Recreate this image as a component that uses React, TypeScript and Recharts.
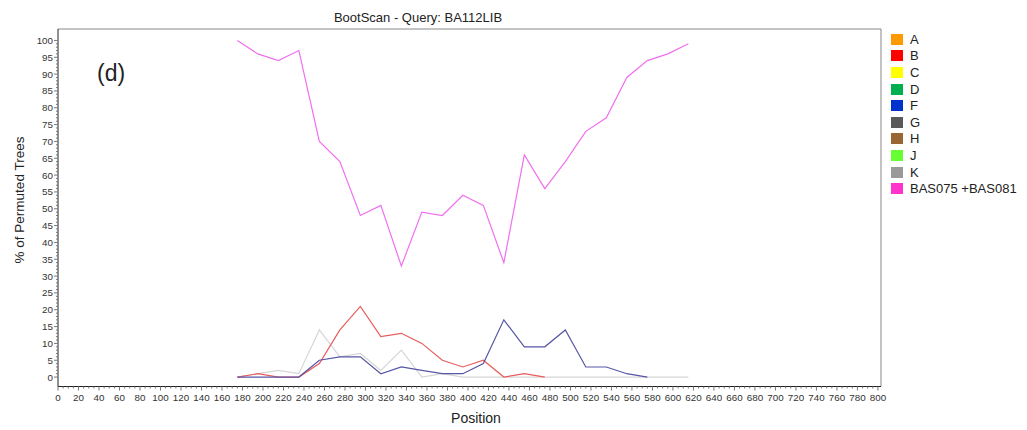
import { Line, LineChart, ReferenceLine, XAxis, YAxis } from "recharts"

// window positions along the alignment
const positions = [
  175, 195, 215, 235, 255, 275, 295, 315, 335, 355, 375, 395, 415, 435, 455, 475, 495, 515, 535,
  555, 575, 595, 615,
]

const bas = [100, 96, 94, 97, 70, 64, 48, 51, 33, 49, 48, 54, 51, 34, 66, 56, 64, 73, 77, 89, 94, 96, 99]
const subtypeB = [0, 1, 0, 0, 4, 14, 21, 12, 13, 10, 5, 3, 5, 0, 1, 0]
const subtypeF = [0, 0, 0, 0, 5, 6, 6, 1, 3, 2, 1, 1, 4, 17, 9, 9, 14, 3, 3, 1, 0]
const subtypeK = [0, 1, 2, 1, 14, 6, 7, 2, 8, 0, 1, 0, 0, 0, 0, 0, 0, 0, 0, 0, 0, 0, 0]

const legendNames = ["A", "B", "C", "D", "F", "G", "H", "J", "K", "BAS075 +BAS081"]
const legendColors = [
  "#ff9900",
  "#ff0000",
  "#ffff00",
  "#00b050",
  "#0033cc",
  "#595959",
  "#996633",
  "#66ff33",
  "#999999",
  "#ff33cc",
]

const X_MAX = 803
const Y_MIN = -2.8
const Y_MAX = 103.4

const xTicks = Array.from({ length: 161 }, (_, i) => i * 5)
const yTicks = Array.from({ length: 101 }, (_, i) => i)

const data = positions.map((pos, i) => ({
  pos,
  bas: bas[i],
  B: subtypeB[i] ?? null,
  F: subtypeF[i] ?? null,
  K: subtypeK[i],
}))

const FONT = "Arial, 'Liberation Sans', sans-serif"

function XTick(props: any) {
  const { x, y, payload } = props
  const v = payload.value
  const major = v % 20 === 0
  return (
    <g>
      <line x1={x} x2={x} y1={y} y2={y + (major ? 4 : 2)} stroke="#777" />
      {major && (
        <text x={x} y={y + 14} textAnchor="middle" fontSize={9.8} fill="#333" fontFamily={FONT}>
          {v}
        </text>
      )}
    </g>
  )
}

function YTick(props: any) {
  const { x, y, payload } = props
  const v = payload.value
  const major = v % 5 === 0
  return (
    <g>
      <line x1={x} x2={x - (major ? 4 : 2)} y1={y} y2={y} stroke="#777" />
      {major && (
        <text x={x - 5} y={y + 3.5} textAnchor="end" fontSize={9.8} fill="#333" fontFamily={FONT}>
          {v}
        </text>
      )}
    </g>
  )
}

export default function App() {
  return (
    <div
      style={{
        position: "absolute",
        left: 0,
        top: 0,
        width: 1027,
        height: 430,
        background: "#fff",
        fontFamily: FONT,
        color: "#222",
      }}
    >
      <LineChart
        width={1027}
        height={430}
        data={data}
        margin={{ top: 29, right: 146, bottom: 13.5, left: 28 }}
      >
        <XAxis
          dataKey="pos"
          type="number"
          domain={[0, X_MAX]}
          ticks={xTicks}
          interval={0}
          tick={<XTick />}
          tickLine={false}
          tickSize={0}
          tickMargin={0}
          height={30}
          axisLine={{ stroke: "#222" }}
          allowDataOverflow
        />
        <YAxis
          type="number"
          domain={[Y_MIN, Y_MAX]}
          ticks={yTicks}
          interval={0}
          tick={<YTick />}
          tickLine={false}
          tickSize={0}
          tickMargin={0}
          width={30}
          axisLine={{ stroke: "#222" }}
          allowDataOverflow
        />
        <ReferenceLine y={Y_MAX} stroke="#888" ifOverflow="visible" />
        <ReferenceLine x={X_MAX} stroke="#888" ifOverflow="visible" />
        <Line dataKey="K" stroke="#d6d6d6" strokeWidth={1.2} dot={false} isAnimationActive={false} />
        <Line dataKey="B" stroke="#e85c5c" strokeWidth={1.2} dot={false} isAnimationActive={false} />
        <Line dataKey="F" stroke="#5656a6" strokeWidth={1.2} dot={false} isAnimationActive={false} />
        <Line dataKey="bas" stroke="#f070f0" strokeWidth={1.2} dot={false} isAnimationActive={false} />
      </LineChart>

      <div
        style={{
          position: "absolute",
          left: 418,
          top: 10,
          transform: "translateX(-50%)",
          fontSize: 13,
          whiteSpace: "nowrap",
        }}
      >
        BootScan - Query: BA112LIB
      </div>
      <div
        style={{
          position: "absolute",
          left: 476,
          top: 410,
          transform: "translateX(-50%)",
          fontSize: 14,
        }}
      >
        Position
      </div>
      <div
        style={{
          position: "absolute",
          left: 19,
          top: 200,
          transform: "translate(-50%, -50%) rotate(-90deg)",
          fontSize: 13.5,
          whiteSpace: "nowrap",
        }}
      >
        % of Permuted Trees
      </div>
      <div style={{ position: "absolute", left: 97, top: 60, fontSize: 23, color: "#222" }}>(d)</div>

      <div style={{ position: "absolute", left: 891, top: 31 }}>
        {legendNames.map((name, i) => (
          <div
            key={name}
            style={{ display: "flex", alignItems: "center", height: 16.6, fontSize: 13 }}
          >
            <span
              style={{
                display: "inline-block",
                width: 12,
                height: 11,
                background: legendColors[i],
                marginRight: 7,
              }}
            />
            {name}
          </div>
        ))}
      </div>
    </div>
  )
}
